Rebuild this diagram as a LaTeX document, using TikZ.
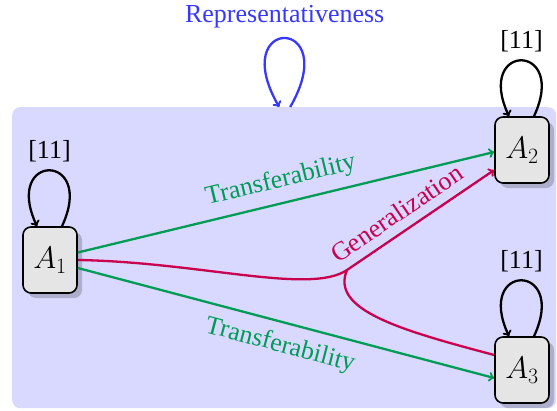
\RequirePackage{fix-cm}
\documentclass[tikz,border=0pt]{standalone}
\usepackage{fontspec}
\setmainfont{Liberation Serif}
\usetikzlibrary{shadows}
\definecolor{tgreen}{RGB}{0,155,85}
\definecolor{tred}{RGB}{200,0,78}
\definecolor{tblue}{RGB}{55,55,255}
\begin{document}
\begin{tikzpicture}[x=1pt,y=1pt,
  every node/.style={font=\fontsize{26}{31}\selectfont, inner sep=8.67pt},
  bgbox/.style={fill=blue!15, rounded corners=8pt, inner sep=0pt, minimum width=544pt, minimum height=301pt, anchor=north west},
  statebox/.style={draw, line width=1.6pt, fill=gray!20, rounded corners=8pt, minimum width=54pt, minimum height=66pt, inner sep=0pt, font=\fontsize{31.2}{37}\selectfont, drop shadow={shadow xshift=5pt, shadow yshift=-5pt, opacity=0.2, fill=black}},
  gedge/.style={line width=2.3pt, draw=tgreen, ->},
  redge/.style={line width=2.3pt, draw=tred},
  bedge/.style={line width=2.3pt, draw=tblue, ->},
  kedge/.style={line width=2.3pt, draw=black, ->},
]
\useasboundingbox (0,0) rectangle (557,-410);
\node[bgbox] (bg) at (12,-107) {};
\node[statebox] (A1) at (50,-260) {$A_1$};
\node[statebox] (A2) at (522,-150) {$A_2$};
\node[statebox] (A3) at (522,-370) {$A_3$};
\coordinate (j) at (347,-270);
% representativeness loop
\draw[bedge] ([xshift=6]bg.north) .. controls +(60:106) and +(120:106) .. node[above=0.5pt, text=tblue]{Representativeness} ([xshift=-5]bg.north);
% self loops
\draw[kedge] ([xshift=12]A1.north) .. controls +(65:82) and +(115:82) .. node[above=-1.5pt]{[11]} ([xshift=-13]A1.north);
\draw[kedge] ([xshift=12]A2.north) .. controls +(65:82) and +(115:82) .. node[above=-1.5pt]{[11]} ([xshift=-13]A2.north);
\draw[kedge] ([xshift=12]A3.north) .. controls +(65:82) and +(115:82) .. node[above=-1.5pt]{[11]} ([xshift=-13]A3.north);
% transferability
\draw[gedge] ([yshift=7.5]A1.east) -- node[sloped, above=0.5pt, text=tgreen]{Transferability} ([yshift=-2]A2.west);
\draw[gedge] ([yshift=-8]A1.east) -- node[sloped, below=1.5pt, text=tgreen]{Transferability} ([yshift=-8]A3.west);
% generalization
\draw[redge, ->] (A1.east) .. controls (200,-262) and (310,-295) .. (j) -- node[sloped, above, pos=0.41, text=tred]{Generalization} ([yshift=-20]A2.west);
\draw[redge] (j) .. controls (330,-310) and (400,-330) .. ([yshift=15]A3.west);
\end{tikzpicture}
\end{document}
